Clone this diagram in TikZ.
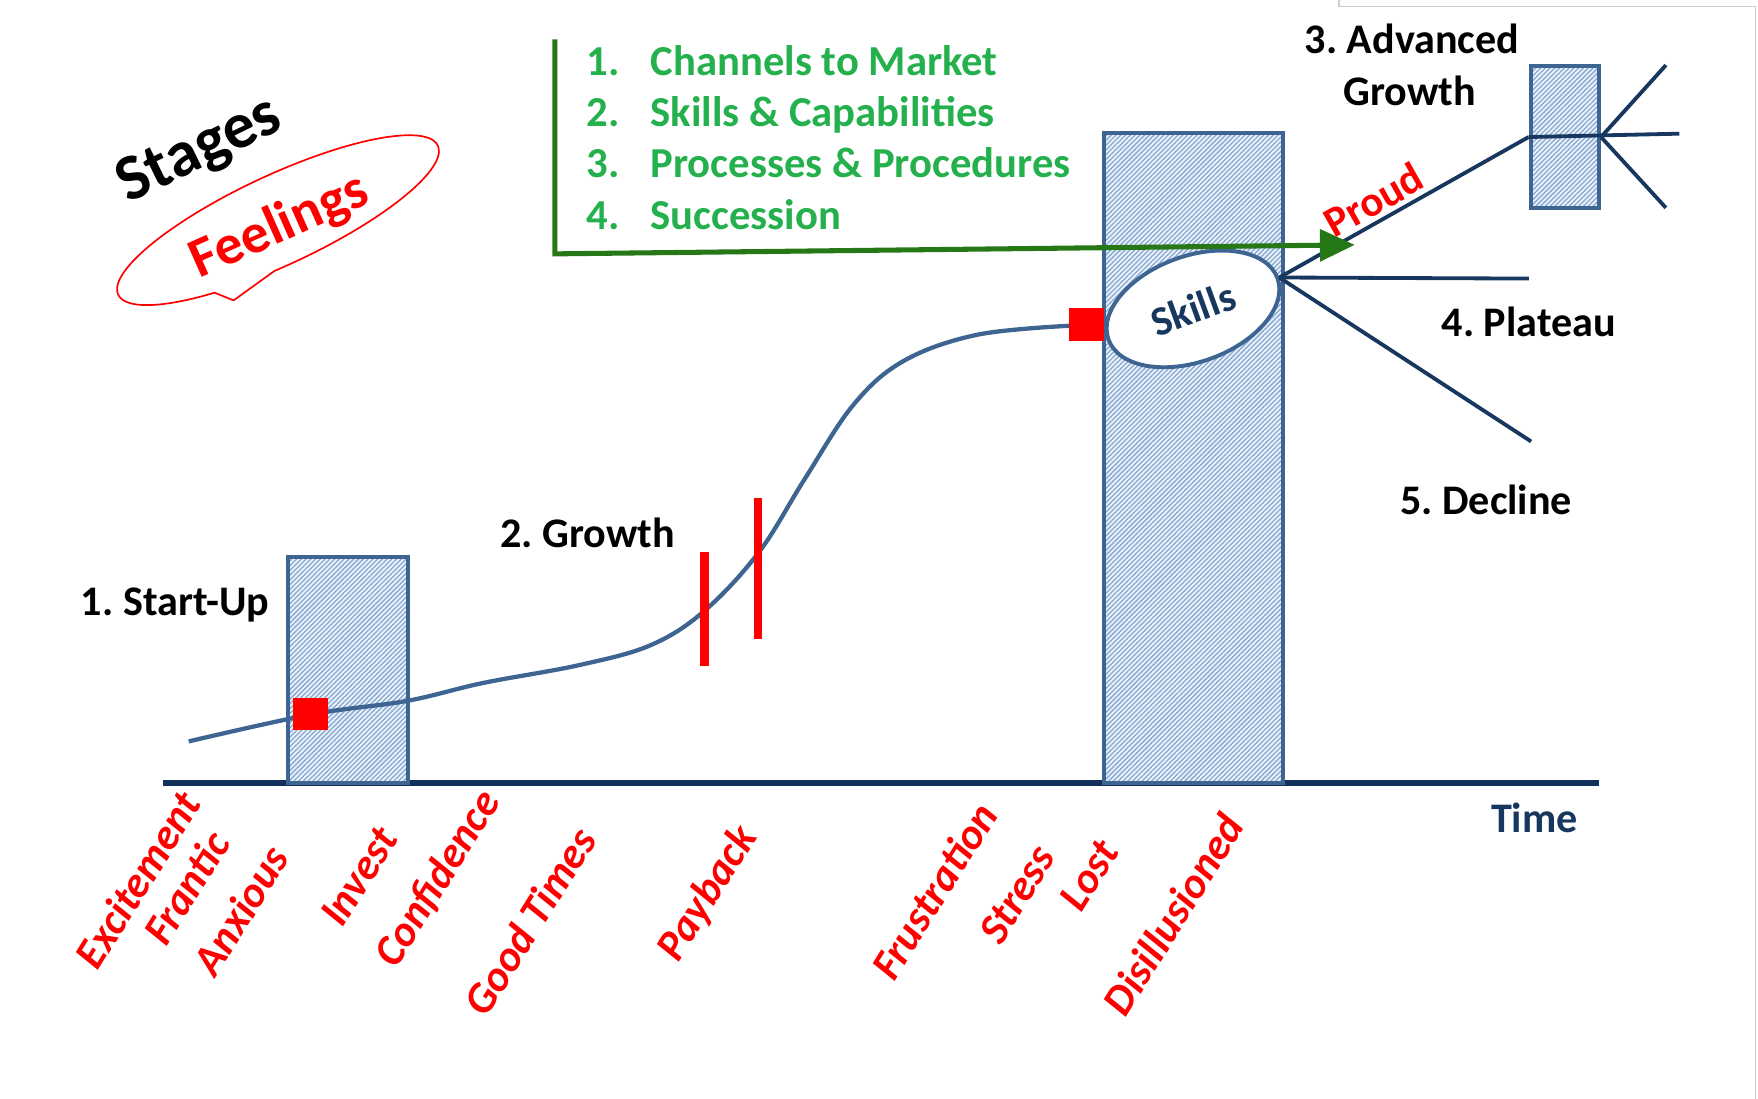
\documentclass[tikz,border=0pt]{standalone}
\usepackage{fontspec}
\setmainfont{Carlito}
\usetikzlibrary{arrows.meta,patterns.meta,shapes.geometric}
\frenchspacing
\definecolor{axisblue}{RGB}{18,48,92}
\definecolor{navy}{RGB}{23,55,94}
\definecolor{steel}{RGB}{62,100,146}
\definecolor{hatch}{RGB}{140,172,212}
\definecolor{hatchbg}{RGB}{240,245,251}
\definecolor{darkgreen}{RGB}{38,120,22}
\definecolor{listgreen}{RGB}{36,176,76}
\definecolor{framegray}{RGB}{205,205,205}
\tikzset{
  lbl/.style = {inner sep=0pt, font=\bfseries\fontsize{37.5}{44}\selectfont},
  lbl_stage/.style = {lbl, black, anchor=base},
  lbl_list/.style = {inner sep=0pt, listgreen, anchor=base west, font=\bfseries\fontsize{38}{44}\selectfont},
  lbl_feel/.style = {inner sep=0pt, red, anchor=base west, rotate=58, font=\bfseries\itshape\fontsize{38.5}{44}\selectfont},
  box_stage/.style = {draw=steel, line width=3.5pt, inner sep=0pt, preaction={fill=hatchbg}, pattern={Lines[angle=45,distance=3pt,line width=1.3pt]}, pattern color=hatch},
  red_sq/.style = {fill=red, inner sep=0pt, minimum width=31pt, minimum height=29pt},
  red_bar/.style = {fill=red, inner sep=0pt, minimum width=7.5pt},
  axis_ln/.style = {axisblue, line width=6pt},
  curve_ln/.style = {steel, line width=3.8pt},
  fan_ln/.style = {navy, line width=3.4pt},
  grn_arrow/.style = {darkgreen, line width=4.5pt, -{Triangle[length=31pt,width=28pt]}},
  bubble/.style = {red, line width=1.5pt},
  frame_ln/.style = {framegray, line width=1pt},
}

\begin{document}
\begin{tikzpicture}[x=1pt, y=1pt]
  \useasboundingbox (0,0) rectangle (1565,978);
  \draw[frame_ln] (1192,978) -- (1192,972) -- (1563,972) -- (1563,0);

  % time axis
  \coordinate (t_start) at (145,281);
  \coordinate (t_end) at (1423,281);
  \draw[axis_ln] (t_start) -- (t_end);
  \node[lbl, text=navy, anchor=base] (time) at (1366,237) {Time};

  % stage boxes
  \node[box_stage, minimum width=107pt, minimum height=201pt] (startbox) at (309.5,381.5) {};
  \node[box_stage, minimum width=159pt, minimum height=579pt] (skillbox) at (1062.5,570.5) {};
  \node[box_stage, minimum width=61pt, minimum height=127pt] (advbox) at (1393,856) {};

  % growth curve
  \draw[curve_ln] plot[smooth, tension=0.6] coordinates {(168,318) (277,342) (362,354) (430,370)
    (516,386) (580,404) (628,435) (676,487) (716,551) (760,618) (805,657) (870,680) (952,688)};
  \node[red_sq] (sq_start) at (276.5,342.5) {};
  \node[red_sq] (sq_skill) at (967,689) {};
  \node[red_bar, minimum height=102pt] (bar_a) at (627,436) {};
  \node[red_bar, minimum height=125pt] (bar_b) at (675,472) {};

  % skills and the ways out
  \node[ellipse, draw=steel, line width=3.5pt, fill=white, rotate=20, minimum width=160pt,
    minimum height=94pt, inner sep=0pt, text=navy, font=\bfseries\fontsize{37}{40}\selectfont] (skills) at (1062,703) {Skills};
  \coordinate (plateau_end) at (1361,730);
  \coordinate (decline_end) at (1363,585);
  \coordinate (adv_right) at (1495,859);
  \coordinate (adv_up) at (1483,920);
  \coordinate (adv_down) at (1483,793);
  \draw[fan_ln] (skills.east) -- node[pos=0.42, above, sloped, inner sep=4pt, text=red,
    font=\bfseries\fontsize{38}{40}\selectfont] (proud) {Proud} (advbox.west);
  \draw[fan_ln] (skills.east) -- (plateau_end);
  \draw[fan_ln] (skills.east) -- (decline_end);
  \draw[fan_ln] (advbox.west) -- (adv_right);
  \draw[fan_ln] (advbox.east) -- (adv_up);
  \draw[fan_ln] (advbox.east) -- (adv_down);

  % what is needed
  \coordinate (g_top) at (494,943);
  \coordinate (g_corner) at (494,752);
  \coordinate (g_tip) at (1206,760);
  \draw[grn_arrow] (g_top) -- (g_corner) -- (g_tip);
  \node[lbl_list] (n1) at (522,911) {1.};
  \node[lbl_list] (n2) at (522,865) {2.};
  \node[lbl_list] (n3) at (522,820) {3.};
  \node[lbl_list] (n4) at (522,774) {4.};
  \node[lbl_list] (l1) at (579,911) {Channels to Market};
  \node[lbl_list] (l2) at (579,865) {Skills \& Capabilities};
  \node[lbl_list] (l3) at (579,820) {Processes \& Procedures};
  \node[lbl_list] (l4) at (579,774) {Succession};

  % stages
  \node[lbl_stage] (st1) at (156,430) {1. Start-Up};
  \node[lbl_stage] (st2) at (523,491) {2. Growth};
  \node[lbl_stage] (st3a) at (1257,930) {3. Advanced};
  \node[lbl_stage] (st3b) at (1255,884) {Growth};
  \node[lbl_stage] (st4) at (1361,678) {4. Plateau};
  \node[lbl_stage] (st5) at (1323,520) {5. Decline};

  % legend
  \node[rotate=26, font=\bfseries\fontsize{58}{60}\selectfont] (stages) at (178,843) {Stages};
  \draw[bubble, shift={(247.5,782)}, rotate=25] (262:157 and 40)
    arc[start angle=262, end angle=600, x radius=157, y radius=40] -- (-66,-48) -- cycle;
  \node[rotate=24, text=red, font=\bfseries\fontsize{50}{52}\selectfont] (feelings) at (249,776) {Feelings};

  % feelings along the way
  \node[lbl_feel] (f_excite) at (87,113) {Excitement};
  \node[lbl_feel] (f_frantic) at (148,134) {Frantic};
  \node[lbl_feel] (f_anxious) at (192,107) {Anxious};
  \node[lbl_feel] (f_invest) at (305,151) {Invest};
  \node[lbl_feel] (f_confid) at (353,115) {Confidence};
  \node[lbl_feel] (f_good) at (433,71) {Good Times};
  \node[lbl_feel] (f_payback) at (604,120) {Payback};
  \node[lbl_feel] (f_frust) at (796,103) {Frustration};
  \node[lbl_feel] (f_stress) at (891,135) {Stress};
  \node[lbl_feel] (f_lost) at (963,165) {Lost};
  \node[lbl_feel] (f_disill) at (1002,71) {Disillusioned};
\end{tikzpicture}
\end{document}
